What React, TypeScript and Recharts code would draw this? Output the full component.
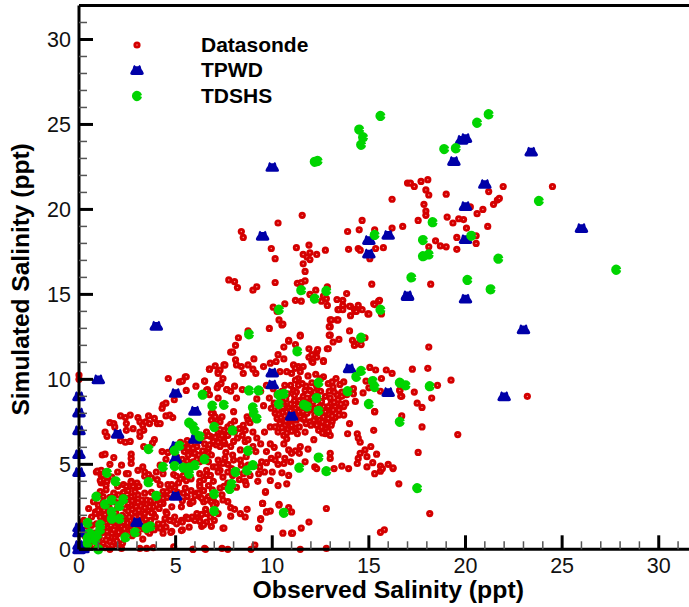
import React from 'react';
import { ScatterChart, Scatter, XAxis, YAxis, Legend, ReferenceLine } from 'recharts';

const xTicks = [0,1,2,3,4,5,6,7,8,9,10,11,12,13,14,15,16,17,18,19,20,21,22,23,24,25,26,27,28,29,30,31];
const yTicks = [0,1,2,3,4,5,6,7,8,9,10,11,12,13,14,15,16,17,18,19,20,21,22,23,24,25,26,27,28,29,30,31];
const xTitle = 'Observed Salinity (ppt)';
const yTitle = 'Simulated Salinity (ppt)';

type Pair = [number, number];

const datasondeLowLeft: Pair[] = [
[0,10.25],[0,10],[0.9,4.55],[1.15,4.35],[1.15,3.9],[1.4,3.75],[2,4.55],[2.3,3.8],[2.45,4.45],[2.7,4],[3,3.9],[3.05,3.7],[3.4,4.55],[4.05,4.1],[4.35,4.45],[4.9,4.4],[5.4,4.35],[5.15,3.9],[4.95,3.65],[3.75,3.35],[3.05,3.2],[2.7,3.1],[3.4,3.3],[3.25,2.9],[4.1,3.05],[4.35,3.4],[4.55,3.05],[4.35,2.7],[4.5,2.2],[4.15,2.4],[3.85,2.5],[3.6,2.3],[3.4,2.1],[2.7,2.6],[2.9,2.2],[2.4,2.4],[2.4,1.7],[2.2,1.35],[1.85,1.35],[1.5,1.25],[1.7,0.95],[1.95,0.85],[1.85,0.65],[1.6,0.45],[1.25,0.35],[2.4,0.95],[2.55,1.35],[2.7,1.15],[3.05,0.95],[3.3,0.6],[3.85,1.25],[4.1,1.5],[4.35,1.4],[4.8,1.05],[4.35,0.95],[5.35,1.15],[5.3,1.7],[4.9,1.65],[4.45,1.8],[3.95,1.9],[3.7,1.7],[3.3,1.6],[0.5,2.4],[0.85,2.2],[0.65,1.9],[0.15,1.6],[0.25,1.7],[0.9,1.5],[0.65,1.4],
[1.1,2.05],[1.3,2.3],[1.55,2.5],[1.2,1.75],[1.5,1.9],[1.4,1.55],[1.05,1.25],[1.25,1],[1.5,0.75],[1.05,0.7],[0.8,0.95],[1.75,1.6],[2,1.15],[2.15,0.95],[2.05,1.55],[2.25,2],[1.9,2.15],[2,2.45],[2.6,1.9],[2.85,1.65],[3.1,1.35],[2.95,2.5],[3.2,2.55],[3.5,2.65],[2.2,2.8],[2.5,3],[2.85,2.9],[2.05,3.2],[2.3,3.35],[2.55,3.45],[2.9,3.4],[1.8,3.3],[1.6,3.05],[1.25,2.75],[1,2.6],[0.75,2.8],[0.35,1.15],[0.3,0.8],[0.6,0.45],[0.75,0.25],[1,0.2],[1.35,0.1],[1.7,0.2],[2,0.3],[2.25,0.35],[2.35,1.2],[2.75,0.8],[3.55,1.05],[3.35,1.2],[3.65,0.95],
[1.1,4.05],[1.45,4],[1.7,4.25],[2,3.7],[2.45,3.7],[2.7,3.95],[2.8,3.7],[3.1,3.7],[4.2,3.8],[4.6,3.8],[4.8,3.8],[4.7,3.5],[1.1,3.4],[1.4,3.5],[1.25,3.1],[1.5,2.7],[1.85,2.8],[0.85,2.1],[1,2.3],[1.1,1.9],
[3.15,0.05],[3.5,0.05],[3.85,0.1],[4.9,0.15],[5.9,0],[6.5,0.05],[7.4,0.05],[0.4,0.05],[1,0],[1.6,0],[2.2,0.05],
[4.75,1],[5.3,1.1],[5.7,1.3],[6.85,1.35],[7.45,1.25],[6.35,1.35],[6.6,1.6],[5.9,1.8],[6.1,1.9],[5.55,1.9],[4.95,1.9],[4.7,1.7],[4.35,1.5],[4.2,1.25],[3.9,1.15],[4.5,1.3],[5.05,1.5],[6.25,1.7],[5.35,1.6],[6.6,2.1],[5.3,2.5],[5.75,2.7],[4.55,2.1],[4.8,2.5],[4.2,2.7],[4.35,3],[3.85,2.1],[3.65,2.5],[3.5,2.9],[4,3.1],[4.55,3.4],[4.9,3.1],[5.4,3.3],[5.85,2.8],[6.1,3.3],[6.25,3.1],[6.7,3.1],[6.95,2.9],[6.45,2.8],[7.1,2.7],[7.45,2.9],[7.2,2.1],
];

const datasondeUpperLeft: Pair[] = [
[4.62,10.05],[4.93,8.8],[5.2,9.85],[5.35,9.9],[5.5,10.15],[6.05,9.6],[6.5,9.9],[6.65,9.4],[6.75,10.6],[7.05,10.8],[7.2,10.45],[7.5,10.85],[7.2,9.65],[7.15,9.5],[7.65,9.4],[7.85,11.6],
[4.35,8.5],[4.5,8.6],[4.3,8.3],[4.5,7.85],[4.7,7.9],[4.85,7.75],[2.15,7.85],[2.65,7.9],[2.4,7.75],[1.6,7.45],[1.8,7.4],[2.45,7.4],[1.85,7.2],[3.05,7.75],[3.15,7.5],[3.6,7.85],[3.3,7.3],[3.45,7.5],[3.65,7.4],[3.9,7.7],[4.05,7.4],[4.2,7.4],[2.8,7.1],[2.45,7],[3.35,7],[3.15,6.9],[1.35,6.9],[1.45,6.65],[3.15,6.65],[2.15,6.4],[2.4,6.3],[2.65,6.35],[3.9,6.45],[3.8,6.25],[3.35,6.05],[2.7,5.6],[2.7,5.35],[1.2,5.55],[1.35,5.6],[1.8,5.4],[4.3,5.75],[4.6,5.7],[2.7,5.05],[1.6,5],[2.2,4.95],[3.3,4.85],[3.05,4.65],[0.95,4.6],[1.15,4.65],[1.25,4.35],[2.55,4.45],
[5.05,5.45],[5.55,6.05],[5.8,6.15],[6.1,6.05],[5.9,5.65],[5.75,5.65],[6.25,5.45],[6.7,5.95],[6.8,6.65],[7.1,6.45],[6.95,6.25],[7.3,6.05],[7.65,6.7],[6.6,6.7],[6.95,8],[7.4,7.8],[7.15,7.6],[6.85,7.6],[6.6,6.9],[6.45,6.65],[7.3,5.05],[6.95,4.85],[7.3,4.65],[6.6,4.65],[6.25,4.45],[6.45,4.1],[6.25,3.8],[6.95,4],[7.45,4.25],[3.6,4.4],[3.75,4.2],[4.2,4.95],[4.5,5.3],[3.4,4.3],[4,4.55],[5.05,4.3],
];

const datasondeLowMid: Pair[] = [
[6.6,4.35],[6.8,4.35],[6.25,4],[6.25,3.7],[7.2,4.55],[7.7,4.55],[7.5,3.7],[7.3,3.6],[7.4,3.2],[7.7,3.9],[8.3,4.1],[8.6,4],[8.65,3.8],[8.15,3.65],[8.85,4.35],[9.3,4.45],[9.6,4.55],[10,4.55],[10.5,4.5],[10.85,4.35],[9.25,4],[9.9,4.05],[10.3,3.75],[10.75,3.85],[9.65,3.35],[5.5,3.6],[6.2,3.3],[5.9,2.8],[6,3.15],[6.35,3],[6.6,2.9],[6.85,2.8],[6.95,2.6],[7.7,2.8],[7.85,2.45],[8.05,2.35],[8.7,2.35],[8.35,2.1],[8.6,1.9],[7.85,1.95],[9.5,2.7],[10.35,2.65],[10.85,2.45],[11,2.2],[9.9,2.25],[9.7,2.2],[9.4,1.8],[10.55,0.95],[11,0.95],[9.3,1.25],[7.5,1.25],[7,1.7],[6.8,1.9],[6.55,2.35],[6.35,2.05],[6.1,2.1],[5.85,1.9],[5.65,1.8],[6,1.7],[6.25,1.65],[6.45,1.45],
[5.9,0],[6.55,0],[7.7,0],[8.9,0],[9.1,0.25],[12.8,2.4],[11.9,1.6],[11.5,1.25],[11.05,0.95],[9.3,1.25],[9.4,1.75],[9.65,3.4],[9.5,2.7],[10.35,2.6],[9.7,2.2],[12.8,0.05],[11.45,0],[15.8,1.15],[15.6,1],[18.15,2.1],[17.55,5.7],[16.55,3.85],[16.25,4.75],[16,5],[15.6,4.6],[15.3,4.45],
];

const datasondeCentre: Pair[] = [
[8.1,11.15],[9.05,11.2],[10.2,11.05],[10.6,11.2],[11.1,10.85],[6.75,10.6],[7.3,10.55],[7.55,10.85],[7.2,10.35],[8.15,10.85],[8.4,10.75],[8.75,10.85],[9,10.6],[8.5,10.35],[9.15,10.35],[9.55,10.75],[9.9,10.95],[10.4,10.45],[10.75,10.45],[11,10.35],[5.55,10.15],[6.5,9.9],[7.45,10.05],[7.35,9.75],[8.05,9.6],[7.65,9.4],[7.85,9.3],[5.55,9.35],[6.6,9.35],[6.75,9.1],[8.45,9.4],[8.15,8.9],[7.2,8.9],[9.7,9.65],[9.4,9.3],[10.65,9.65],[10.95,9.65],[11.1,9.35],[10.05,9.45],[10.25,9.1],[9.55,8.45],[10.6,8.5],[10.85,8.3],[10.3,8.2],[10.15,8],[10.25,7.7],[10.6,7.6],[10.85,7.8],[11.1,7.7],[10.4,7.4],[10.65,7.3],[10.15,7.2],[9.9,7.2],[10.3,6.9],[10.6,6.7],[10.75,6.5],[8,8.1],[6.85,8],[7.05,7.8],[7.3,7.5],[8.05,7.55],[7.7,7.2],[7.5,7],[7.2,6.9],[7.7,6.7],[7.05,6.6],[7.3,6.5],[6.95,6.35],[7.1,6.15],[6.7,6.7],[8.7,7.8],[8.75,7.6],[8.5,7.3],[8.3,7.1],[8.6,7],[9,6.9],[9.6,6.9],[8.85,7.45],[8.6,6.35],[8.75,6.45],[8,6.35],[8.35,5.85],[9,6.05],[9.7,5.75],[10.85,5.85],[11,5.65],[10.3,5.55],[10.65,5.35],[5.65,5.95],[5.9,5.95],[5.65,5.55],[6,5.65],[6.2,5.55],[5.9,5.15],[6.25,5.15],[6.7,5.65],[6.85,5.55],[6.75,6.15],[7.2,5.25],[7.55,5.35],[7.1,4.85],[6.7,5.15],[7.45,5.05],[8,5.25],[8.35,5.25],[8.65,5.45],[8.4,4.95],[8.75,4.95],[9.45,5.15],[9.7,5.1],[9.95,5.35],[10.15,5.25],[9.35,4.85],[10.3,5],[10.6,5.05],[10.95,5.15],
[7.3,7.05],[7.55,6.2],[7.85,6.05],[8.2,6.55],[8.45,6.7],[9.2,6.55],[9.4,6.2],[9.15,5.75],[9.9,6.2],[10.1,6],[7.6,5.7],[7.95,5.55],[10.35,7.95],[10.55,8.05],[10.45,8.7],[10.7,8.85],[10.95,8.55],[11.15,8.75],[10.8,7.05],[11,6.95],[11.25,7.15],[10.6,6.2],
];

const datasondeBlob: Pair[] = [
[12.05,11.05],[12.3,11.3],[12.65,11.1],[11.6,10.75],[11.35,10.75],[11.2,10.65],[11.9,11.3],[11.45,10.45],[11.35,10.05],[11.2,9.95],[11.35,9.65],[11.25,9.25],[12.05,9.8],[12.65,10.15],[12.9,9.75],[13.3,10.05],[13.5,9.7],[13.15,9.55],[13.7,9.85],[13.1,9.85],[14.2,9.45],[14.2,9.15],[14.7,9.2],[15.05,10.7],[15.35,10.55],[15.9,10.55],[16.2,10.35],[14.85,9.9],[15.65,10.05],[15,9.5],[15.6,9.3],[16.6,9.35],[16.7,9],[11.7,9.35],[11.95,9.35],[12.2,9.25],[11.6,9],[11.8,8.9],[12.1,8.65],[12.75,9],[13,8.9],[13.35,9.1],[13.4,8.8],[13.85,9.1],[14.3,8.7],[13.8,8.6],[13.7,8.4],[13.45,8.2],[13.25,8.4],[12.9,8.4],[12.65,8.4],[12.75,8.1],[13,8],[13.15,8.2],[12.65,7.8],[12.9,7.7],[12.45,7.6],[12.75,7.4],[13.1,7.5],[13.45,7.9],[13.7,7.9],[12.55,7.2],[12.8,7.1],[12.75,6.8],[13,6.7],[14,7.4],[13.9,6.8],[11.35,8.1],[11.2,8.3],[11.6,8.1],[11.8,8],[11.45,7.8],[11.25,7.6],[11.95,7.5],[12,7.3],[11.4,7.2],[11.3,6.8],[11.7,6.9],[12.15,6.45],[15.3,8.1],[15.25,7],[14.4,6.8],[14.45,6.55],[14.55,6.3],[15.1,6.05],[14.8,5.85],[14.55,5.65],[14.9,5.45],[15.4,5.6],[14.45,5.35],[14.4,5.05],[15.2,5.1],[14.9,4.85],[15.6,4.9],[15.7,4.75],[16.25,4.8],[13.6,4.9],[13.95,4.75],[11.45,6.05],[11.85,5.9],[11.2,5.8],[11.4,5.65],[13,5.65],[13,5.35],[11.7,5.15],[13.2,4.75],[12.2,4.85],[12.3,4.75],
[12.3,9.6],[12.5,9.3],[12.35,8.85],[12.55,8.7],[12.2,8.3],[12.4,8.05],[12.2,7.9],[12.15,7.6],[12.95,9.3],[13.2,9.25],[13.6,9.25],[13.6,9],[13.25,7.75],[13.05,7.3],[11.55,8.55],[11.4,8.75],[11.15,9.05],[11.75,9.6],[11.55,9.75],[11.85,10.2],[12.25,10.3],[12.5,10.05],
[19.25,9.95],[18.55,9.65],[18.25,8.9],[17.75,7.2],[19.6,6.75],[18.1,11.9],[18.05,10.65],[17.25,10.6],[17.75,8.35],[17.5,8.6],[17.35,9.25],[16.7,7.85],[15.3,8.1],[16.65,9],[16.6,9.35],[23.2,9],
];

const datasondeUpper: Pair[] = [
[10.65,14.45],[10.35,13.5],[10.5,13.2],[9.85,13],[8.25,12.45],[8.1,12],[7.95,11.6],[11.45,12.6],[10.85,12.25],[10.6,11.9],[11.2,12.05],[11.9,11.8],[12.3,11.6],[12.05,11.45],[12.1,11],[12.65,11.05],[12.85,11.8],[13,12.6],[13.15,12.2],[13.45,12.35],[13,13.1],[13.35,13.5],[13,13.5],[14,12.85],[14.15,12.3],[14.25,12],[14.45,12.1],[13.4,14.1],[14.05,14.3],[14.45,14.35],[14.95,13.85],[14.05,13.75],[14.65,14.1],[14.3,14],[15.65,13.85],[15.25,14.45],
[11.55,19.65],[10.3,19.2],[8.4,18.7],[8.5,18.35],[9.95,17.7],[10.15,17.1],[11.25,17.75],[11.9,17.9],[11.6,17.35],[11.95,17.45],[11.8,17.2],[11.95,17.05],[12.3,17.35],[12.75,17.6],[11.6,16.8],[11.7,16.35],[7.75,15.85],[8.05,15.75],[8.2,15.4],[9,15.25],[9.2,15.45],[10.15,15.7],[11.3,15.65],[11.5,15.7],[11.7,15.8],[12.85,15.45],[12.25,15.25],[11.95,15],[12.65,14.9],[12.55,14.6],[12.8,14.75],[12.85,14.35],[11.2,14.65],[11.5,14.6],[10.05,14.25],[10.25,14],[10.55,13.25],[13.35,14.7],[13.65,14.65],[13.65,14.35],[13.45,14.1],[13.65,14.1],[13.85,15.05],[14,14.3],[14.25,14.1],[14.35,14],[15,13.85],[15.3,14.4],[15.5,14.6],[15.15,15.6],[13.05,13.5],[13.4,13.5],[12.95,13.1],[12.95,12.6],[14.8,12.45],[14.6,12.05],[12.9,11.8],[11.45,12.55],[10.85,12.3],[10.3,11.45],[12.35,11.75],[8.75,12.85],
[14.65,19.35],[13.9,18.7],[14.5,18.8],[15.3,18.8],[16.2,18.9],[16.75,19],[13.95,17.65],[14.45,17.7],[14.55,17.6],[15.35,17.7],[15.75,17.75],[15.05,17.1],[18.2,15.6],[15.55,14.65],
[17,21.55],[17.15,21.55],[17.35,21.35],[17.7,21.65],[18.05,21.75],[17.95,21.15],[18.1,20.85],[19,20.9],[16.2,20.6],[17.85,20.3],[17.95,19.9],[17.95,19.65],[17.55,19.35],[19.05,19.55],[19.35,19.2],[19.65,19.45],[19.9,19.4],[20.05,18.9],[21.15,19],[20.6,19.75],[20.9,20],[21.45,20.3],[21.65,20.55],[21.75,20.65],[21.2,21.05],[21.95,21.35],[24.5,21.35],[20.25,20.15],[19.55,18.35],[20.55,18.45],[20.55,18],[18.45,18.15],[18.7,17.85],[19,17.8],[18.1,17.8],[19.55,17.65],
];

const datasondeDense: Pair[] = [
[1.35,2.05],[1.6,2.25],[1.8,1.95],[2.15,1.75],[1.95,1.7],[1.65,1.4],[1.3,1.4],[1.15,1.05],[1.45,1.05],[1.8,1.15],[2.05,1],[1.95,0.5],[1.4,0.55],[0.95,0.4],[2.55,2.25],[2.75,2.35],[2.5,1.55],[2.9,1.9],[3.15,1.95],[3.1,2.3],[3.4,2.45],[3.75,2.15],[2.7,1.4],[2.3,1.6],[2.85,1.25],[3.45,1.75],[3.6,1.4],[2.55,2.7],[2.75,2.85],[3.05,2.75],[3.7,2.85],[3.9,2.85],[3.95,3.2],
[10.55,8.35],[10.75,8.1],[10.95,8.15],[10.45,7.75],[10.7,7.55],[10.95,7.45],[10.5,7.15],[10.75,6.85],[11,7.3],[11.15,8],[11.35,8.45],[11.6,7.65],[11.75,7.4],[11.65,7.7],[11.95,8.2],[11.9,8.55],[12.05,8.95],[12.45,8.4],[12.3,7.3],[12.4,7],[12.6,6.85],[12.6,7.5],[12.95,7.95],[13.05,8.6],[13.2,8.65],[13.55,8.55],[13.1,7.85],[12.85,7.4],[12.9,6.95],[10.5,9.3],[10.8,9.15],[9.85,8.9],[10.1,8.6],[9.95,8.3],[9.2,8.85],
[5.35,5.3],[5.6,5.2],[5.45,5.75],[6.1,5.3],[6.4,5.8],[6.5,6.2],[6.25,6.4],[6.05,6.65],[5.6,6.4],[5.25,6.3],[7.85,7.35],[8.05,6.9],[7.4,6.7],[7.5,6.35],[7.2,6.3],[7.9,4.75],[8.15,4.6],[8.5,4.45],[7.7,5],[7.95,4.35],[6.45,3.45],[6.7,3.75],[6.9,3.5],[5.8,3.45],[5.6,3.1],[5.35,2.85],[5.1,3.35],[5.55,4.05],[5.8,4.15],[5.25,4.15],
];

const tpwd: Pair[] = [
[0,9],[0,8.05],[0,7],[0,5.6],[0,4.55],[0,1.3],[0,1],[0,0.25],[0,0],[0.2,0.05],[1,10],[2,6.8],[3,1.6],[4,13.15],[5,9.2],[5,3.15],[5,5.3],[5,6.1],[6,8.15],[6,6.5],[9.5,18.45],[10,22.5],[10,10.4],[10,9.7],[11,7.85],[14,10.65],[15,18.2],[15,17.4],[16,18.5],[16,9.25],[17,14.95],[17,14.9],[19.4,22.85],[19.8,24.1],[20,24.2],[20,20.2],[20,18.25],[20,14.75],[21,21.5],[22,9],[23,12.95],[23.4,23.4],[26,18.9],
];

const tdshs: Pair[] = [
[15.6,25.5],[14.5,24.7],[14.7,24.25],[14.6,23.8],[21.2,25.6],[20.6,25.1],[18.9,23.55],[19.5,23.6],[23.8,20.5],[18.3,19.25],[17.8,18.2],[18.1,17.35],[17.8,17.25],[20.3,18.45],[15.3,18.5],[21.7,17.1],[27.8,16.45],[17.2,16],[20.1,15.85],[21.3,15.3],
[12.2,22.8],[12.35,22.85],[11.5,15.25],[12.8,15.2],[12.2,14.75],[10.35,14.1],[15.6,14.1],[8.8,12.65],[14.6,12.45],[11.3,11.65],[8.8,9.35],[9.3,9.35],[12.4,9.8],[14.6,10.5],[14.35,10.15],[15.2,9.9],[15.3,9.55],[13.9,9.3],[16.6,9.8],[16.9,9.65],[18.15,9.6],[10.35,9.1],[10.6,9.15],[10.35,8.55],[12.3,8.9],[11.65,8.5],[11.8,8.4],[12.4,8.15],[15,8.55],[16.6,7.5],[9,8.35],[9.05,8],[9.2,7.7],[7.95,7],[8.75,5.8],[12.4,5.4],[11.4,4.8],[12.8,4.6],[9,4.95],[8.7,4.65],[8.1,4.55],[7.9,3.85],[7.8,3.55],[17.5,3.6],[10.6,2.15],
[6.4,9.1],[6.9,8.45],[7.5,8.5],[5.7,7.45],[5.9,7.25],[6,7],[6.25,6.65],[7,7.2],[3.6,5.9],[5.2,6.1],[4.95,5.8],[6.5,5.3],[1.45,4.5],[1.9,4],[3.6,3.95],[4.35,4.85],[4.95,4.9],[5.4,4.8],[5.7,4.8],[6,4.95],[5.7,4.45],[4,3.15],[7,3.25],[7,2.25],[0.9,3.1],[1.35,2.65],[1.7,2.9],[2.3,2.95],[2.1,2.55],[1.7,2.2],[1.7,1.8],[2.1,1.8],[0.45,1.55],[1.1,1.45],[1.1,1.15],[0.95,0.85],[0.55,0.95],[0.45,0.65],[0.45,0.35],[0.85,0.55],[1,0],[2.4,0.7],[2.9,1],[3.5,1.25],[3.7,1.35],
];

const datasonde: Pair[] = [...datasondeLowLeft, ...datasondeUpperLeft, ...datasondeLowMid, ...datasondeCentre, ...datasondeBlob, ...datasondeUpper, ...datasondeDense];
const toPoints = (pairs: Pair[]) => pairs.map(([x, y]) => ({ x, y }));

const RED = '#d40000';
const BLUE = '#0000a8';
const GREEN = '#00d400';
const FONT = '"Liberation Sans", Arial, sans-serif';

function RedDot({ cx, cy }: any) {
  return (
    <g>
      <circle cx={cx} cy={cy} r={3.6} fill={RED} />
      <circle cx={cx} cy={cy} r={0.7} fill="#ff9c9c" />
    </g>
  );
}

function BlueBell({ cx, cy }: any) {
  const p = (dx: number, dy: number) => `${cx + dx} ${cy + dy}`;
  const d = `M${p(-6.8, 3.2)} Q${p(-6.8, 4.9)} ${p(-5, 4.9)} L${p(5, 4.9)} Q${p(6.8, 4.9)} ${p(6.8, 3.2)} Q${p(6, 1)} ${p(4.4, -1)} L${p(3.6, -4)} L${p(2.6, -5)} L${p(1.2, -3.8)} L${p(-1.2, -3.8)} L${p(-2.6, -5)} L${p(-3.6, -4)} L${p(-4.4, -1)} Q${p(-6, 1)} ${p(-6.8, 3.2)} Z`;
  return <path d={d} fill={BLUE} />;
}

function GreenPac({ cx, cy }: any) {
  const r = 5.1;
  const dx = r * 0.98;
  const dy = r * 0.2;
  const d = `M${cx + dx} ${cy - dy} A${r} ${r} 0 1 0 ${cx + dx} ${cy + dy} L${cx + r * 0.6} ${cy} Z`;
  return <path d={d} fill={GREEN} />;
}

function XTick({ x, y, payload }: any) {
  const major = payload.value % 5 === 0;
  return (
    <g>
      <line x1={x} x2={x} y1={y} y2={y - (major ? 14 : 8)} stroke={major ? '#000' : '#555'} strokeWidth={major ? 3 : 1.5} />
      {major && (
        <text x={x} y={y + 24} textAnchor="middle" fontFamily={FONT} fontSize={21.5} fill="#111">{payload.value}</text>
      )}
    </g>
  );
}

function YTick({ x, y, payload }: any) {
  const major = payload.value % 5 === 0;
  return (
    <g>
      <line x1={x} x2={x + (major ? 14 : 8)} y1={y} y2={y} stroke={major ? '#000' : '#555'} strokeWidth={major ? 3 : 1.5} />
      {major && (
        <text x={x - 8} y={y + 8} textAnchor="end" fontFamily={FONT} fontSize={21.5} fill="#111">{payload.value}</text>
      )}
    </g>
  );
}

const legendMarkers: Record<string, any> = { Datasonde: RedDot, TPWD: BlueBell, TDSHS: GreenPac };
const legendOrder = ['Datasonde', 'TPWD', 'TDSHS'];
const legendRowTop = [0.5, 26, 52];

function LegendBody({ payload }: any) {
  return (
    <div style={{ position: 'relative', width: 220, height: 90 }}>
      {(payload || []).map((entry: any) => {
        const Marker = legendMarkers[entry.value];
        const row = legendOrder.indexOf(entry.value);
        return (
          <div key={entry.value} style={{ position: 'absolute', left: 0, top: legendRowTop[row], height: 24, width: 220 }}>
            <svg width={24} height={24} style={{ position: 'absolute', left: 0, top: 0 }}>
              <Marker cx={12} cy={12} />
            </svg>
            <span style={{ position: 'absolute', left: 76, top: 0, lineHeight: '24px', font: `bold 21px ${FONT}`, color: '#000', whiteSpace: 'nowrap' }}>{entry.value}</span>
          </div>
        );
      })}
    </div>
  );
}

export default function App() {
  return (
    <div style={{ position: 'absolute', left: 0, top: 0, width: 689, height: 607, overflow: 'hidden', background: '#fff' }}>
      <ScatterChart width={720} height={607} margin={{ top: 5.5, right: 22.6, bottom: 0, left: 0 }}>
        <Legend
          layout="vertical"
          align="center"
          verticalAlign="middle"
          content={<LegendBody />}
          wrapperStyle={{ position: 'absolute', left: 125, top: 32, width: 220, height: 90 }}
        />
        <Scatter name="Datasonde" data={toPoints(datasonde)} shape={RedDot} isAnimationActive={false} />
        <Scatter name="TPWD" data={toPoints(tpwd)} shape={BlueBell} isAnimationActive={false} />
        <Scatter name="TDSHS" data={toPoints(tdshs)} shape={GreenPac} isAnimationActive={false} />
        <ReferenceLine y={32} stroke="#000" strokeWidth={3} />
        <XAxis
          type="number"
          dataKey="x"
          domain={[0, 32]}
          ticks={xTicks}
          interval={0}
          height={57.7}
          tickSize={0}
          tickMargin={0}
          tickLine={false}
          tick={<XTick />}
          axisLine={{ stroke: '#000', strokeWidth: 3 }}
          label={{ value: xTitle, position: 'insideBottom', offset: 9, style: { fontFamily: FONT, fontWeight: 'bold', fontSize: 24.8, fill: '#000' } }}
          zIndex={1000}
        />
        <YAxis
          type="number"
          dataKey="y"
          domain={[0, 32]}
          ticks={yTicks}
          interval={0}
          width={79}
          tickSize={0}
          tickMargin={0}
          tickLine={false}
          tick={<YTick />}
          axisLine={{ stroke: '#000', strokeWidth: 3 }}
          label={{ value: yTitle, angle: -90, position: 'insideLeft', offset: 0, dx: 20, dy: 2, style: { fontFamily: FONT, fontWeight: 'bold', fontSize: 24.5, fill: '#000', textAnchor: 'middle' } }}
          zIndex={1000}
        />
      </ScatterChart>
    </div>
  );
}
